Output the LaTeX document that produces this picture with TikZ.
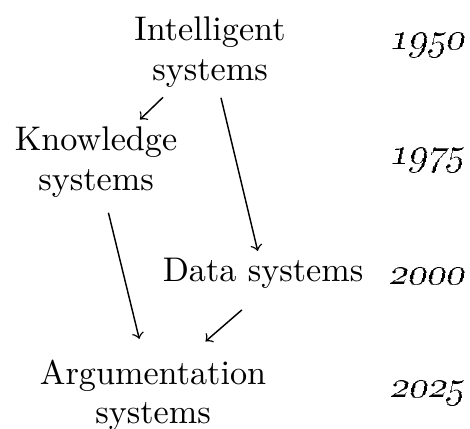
\documentclass[tikz,border=0pt]{standalone}
\usepackage{tikz}

\begin{document}
\begin{tikzpicture}[x=0.31pt, y=0.31pt,
		sys/.style={inner sep=0pt, align=center, font=\fontsize{10.6}{12.2}\selectfont},
		yr/.style={inner sep=0pt, xslant=0.22, transform shape, font=\fontsize{11.5}{12}\selectfont},
		arr/.style={->, line width=0.45pt}]
			\useasboundingbox (0, 0) rectangle (470, 428);
			% systems
			\node[sys] (intel) at (210, 376) {Intelligent\\systems};
			\node[sys] (know) at (96, 266) {Knowledge\\systems};
			\node[sys] (data) at (263, 155) {Data systems};
			\node[sys] (arg) at (153, 33) {Argumentation\\systems};
			% years
			\node[yr] (y1950) at (428, 383) {\oldstylenums{1950}};
			\node[yr] (y1975) at (428, 268) {\oldstylenums{1975}};
			\node[yr] (y2000) at (428, 152) {\oldstylenums{2000}};
			\node[yr] (y2025) at (428, 35) {\oldstylenums{2025}};
			% arrows
			\draw[arr, shorten <=4.3pt, shorten >=3pt] (intel) -- (know);
			\draw[arr, shorten <=3.2pt, shorten >=2pt] (intel) -- (data);
			\draw[arr, shorten <=4.8pt, shorten >=6.4pt] (know) -- (arg);
			\draw[arr, shorten <=10pt, shorten >=8.3pt]
				([xshift=1pt]data.south) -- ([xshift=10pt]arg.north);
		\end{tikzpicture}
\end{document}
